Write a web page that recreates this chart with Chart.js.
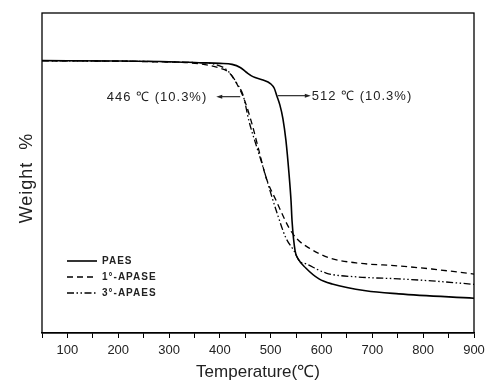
<!DOCTYPE html>
<html>
<head>
<meta charset="utf-8">
<script src="https://cdn.jsdelivr.net/npm/chart.js@4/dist/chart.umd.min.js"></script>
<style>
  html, body { margin: 0; padding: 0; background: #fff; }
  #wrap { width: 502px; height: 385px; position: relative; }
</style>
</head>
<body>
<div id="wrap"><canvas id="tga"></canvas></div>
<script>
// TGA curves: temperature (°C) vs residual weight (%)
var tempPAES = [50, 200, 300, 359, 400, 424, 440, 452, 465, 483, 500, 507, 512, 518, 524, 530, 536, 540, 542, 548, 554, 569, 595, 621, 687, 752, 900];
var wtPAES   = [100, 99.9, 99.7, 99.4, 99.2, 98.9, 98.0, 96.6, 95.3, 94.4, 93.2, 91.9, 89.7, 87.0, 83.0, 76.5, 66.8, 58.8, 52.9, 44.1, 41.8, 39.1, 35.9, 34.4, 32.4, 31.5, 30.2];

var temp1APASE = [50, 261, 359, 398, 418, 434, 448, 463, 477, 491, 511, 536, 552, 575, 615, 668, 752, 817, 900];
var wt1APASE   = [100, 99.7, 99.1, 97.9, 96.5, 93.0, 88.6, 81.5, 73.5, 65.6, 58.8, 50.9, 47.6, 45.0, 42.1, 40.6, 39.7, 38.8, 37.3];

var temp3APAES = [50, 359, 385, 412, 424, 434, 446, 457, 473, 483, 497, 511, 530, 546, 556, 570, 609, 668, 752, 817, 900];
var wt3APAES   = [100, 99.4, 99.1, 97.5, 95.5, 93.2, 89.7, 82.4, 74.4, 69.7, 62.6, 55.9, 47.9, 44.1, 41.2, 40.3, 37.6, 36.5, 35.9, 35.3, 34.3];

var seriesNames = ['PAES', '1°-APASE', '3°-APAES'];
var xTicks = [100, 200, 300, 400, 500, 600, 700, 800, 900];

// 10.3 % weight-loss marks
var markTemps = [446, 512];
var markLoss = 10.3;

var FONT = '"Liberation Sans", Arial, sans-serif';

function pts(xs, ys) {
    return xs.map(function (x, i) { return {x: x, y: ys[i]}; });
}

var dashes = [[], [6, 4], [7, 2.5, 1.5, 2.5, 1.5, 2.5]];
var widths = [1.6, 1.3, 1.3];

var extras = {
    id: 'extras',
    afterDraw: function (chart) {
        var ctx = chart.ctx;
        var a = chart.chartArea;
        var xs = chart.scales.x, ys = chart.scales.y;
        ctx.save();

        // frame
        ctx.strokeStyle = '#000';
        ctx.lineWidth = 1.3;
        ctx.strokeRect(a.left, a.top, a.right - a.left, a.bottom - a.top);

        // y title
        ctx.save();
        ctx.translate(27, 178);
        ctx.rotate(-Math.PI / 2);
        ctx.font = '18px ' + FONT;
        ctx.letterSpacing = '1px';
        ctx.fillStyle = '#222';
        ctx.textAlign = 'center';
        ctx.textBaseline = 'middle';
        ctx.fillText('Weight  %', 0, 0);
        ctx.restore();

        // onset annotations
        ctx.font = '13px ' + FONT;
        ctx.letterSpacing = '1px';
        ctx.fillStyle = '#222';
        ctx.textBaseline = 'middle';
        var yv = ys.getPixelForValue(100 - markLoss) + 1;
        function arrow(x0, x1, y) {
            var dir = x1 > x0 ? 1 : -1;
            ctx.beginPath();
            ctx.moveTo(x0, y);
            ctx.lineTo(x1 - dir * 4, y);
            ctx.lineWidth = 1;
            ctx.stroke();
            ctx.beginPath();
            ctx.moveTo(x1, y);
            ctx.lineTo(x1 - dir * 6, y - 2);
            ctx.lineTo(x1 - dir * 6, y + 2);
            ctx.closePath();
            ctx.fill();
        }
        var pL = xs.getPixelForValue(markTemps[0]);
        arrow(pL - 3, pL - 27, yv);
        ctx.textAlign = 'right';
        ctx.fillText(markTemps[0] + ' ℃ (' + markLoss + '%)', pL - 36, yv + 1);

        var pR = xs.getPixelForValue(markTemps[1]);
        arrow(pR + 1, pR + 34, yv - 1);
        ctx.textAlign = 'left';
        ctx.fillText(markTemps[1] + ' ℃ (' + markLoss + '%)', pR + 35, yv);

        // legend
        ctx.font = 'bold 10px ' + FONT;
        ctx.letterSpacing = '1px';
        ctx.textAlign = 'left';
        chart.data.datasets.forEach(function (ds, i) {
            var y = 261 + i * 16;
            ctx.beginPath();
            ctx.setLineDash(ds.borderDash);
            ctx.lineWidth = ds.borderWidth;
            ctx.moveTo(67, y);
            ctx.lineTo(97, y);
            ctx.stroke();
            ctx.setLineDash([]);
            ctx.fillText(ds.label, 102, y);
        });
        ctx.restore();
    }
};

var datasets = [pts(tempPAES, wtPAES), pts(temp1APASE, wt1APASE), pts(temp3APAES, wt3APAES)].map(function (d, i) {
    return {
        label: seriesNames[i],
        data: d,
        borderColor: '#000',
        borderWidth: widths[i],
        borderDash: dashes[i],
        pointRadius: 0,
        fill: false,
        cubicInterpolationMode: 'monotone'
    };
});

new Chart(document.getElementById('tga'), {
    type: 'line',
    data: {datasets: datasets},
    options: {
        responsive: true,
        maintainAspectRatio: false,
        animation: false,
        layout: {padding: {left: 42, right: 28, top: 13, bottom: 0}},
        plugins: {legend: {display: false}, tooltip: {enabled: false}},
        scales: {
            x: {
                type: 'linear',
                min: 50,
                max: 900,
                afterBuildTicks: function (scale) {
                    var t = [];
                    for (var v = 50; v <= 900; v += 50) t.push({value: v});
                    scale.ticks = t;
                },
                afterFit: function (scale) { scale.height = 52; },
                grid: {drawOnChartArea: false, drawTicks: true, tickLength: 5, color: '#000', tickWidth: 1},
                border: {display: true, color: '#000', width: 1.3},
                ticks: {
                    autoSkip: false,
                    maxRotation: 0,
                    padding: 5,
                    color: '#222',
                    font: {family: FONT, size: 13},
                    callback: function (v) { return xTicks.indexOf(v) >= 0 ? String(v) : ''; }
                },
                title: {
                    display: true,
                    text: 'Temperature(℃)',
                    color: '#222',
                    font: {family: FONT, size: 17},
                    padding: {top: 2, bottom: 2}
                }
            },
            y: {
                display: false,
                min: 20,
                max: 114
            }
        }
    },
    plugins: [extras]
});
</script>
</body>
</html>
